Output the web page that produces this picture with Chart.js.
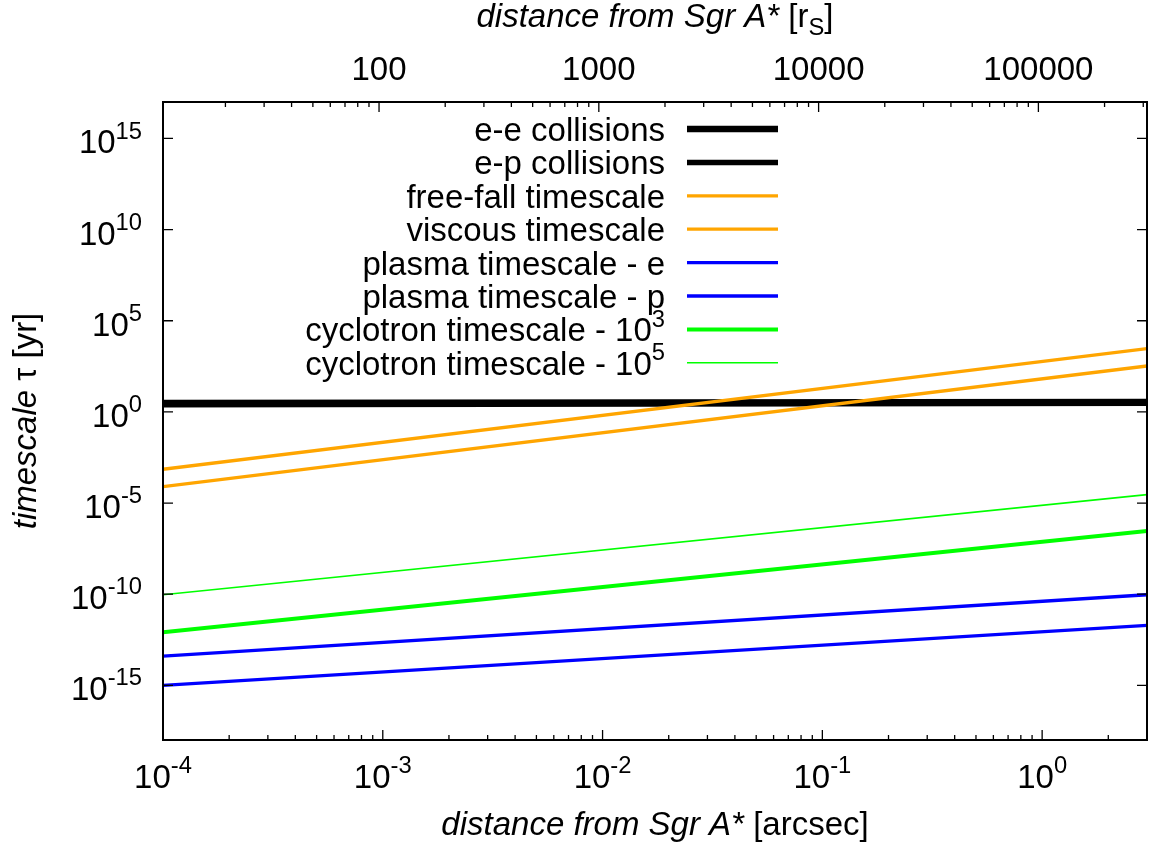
<!DOCTYPE html>
<html><head><meta charset="utf-8">
<script src="https://cdn.jsdelivr.net/npm/chart.js@4.4.1/dist/chart.umd.min.js"></script>
<style>html,body{margin:0;padding:0;background:#fff;} canvas{display:block;}</style>
</head><body>
<canvas id="c" width="1150" height="848"></canvas>
<script>
// ---- data ----
const xRange = [1e-4, 3];            // arcsec
const x2Range = [10.4, 3.12e5];       // r_S
const yRange = [1e-18, 1e17];         // yr
const xEnds = [1e-4, 3];
const eeCollisions = [3.1, 3.5];
const epCollisions = [2.5, 3.0];
const freeFall = [7.9e-5, 330];
const viscous = [7.1e-4, 2950];
const plasmaE = [1.0e-15, 1.95e-12];
const plasmaP = [4.0e-14, 9.3e-11];
const cyclotron3 = [8.1e-13, 2.95e-7];
const cyclotron5 = [9.3e-11, 2.9e-5];
const seriesLabels = ["e-e collisions","e-p collisions","free-fall timescale","viscous timescale",
  "plasma timescale - e","plasma timescale - p","cyclotron timescale - 10^3","cyclotron timescale - 10^5"];
const xTickExps = [-4,-3,-2,-1,0];
const yTickExps = [15,10,5,0,-5,-10,-15];
const x2TickValues = [100,1000,10000,100000];
const x2TickLabels = ["100","1000","10000","100000"];

const FONT = "'Liberation Sans', Arial, sans-serif";
const FS = 33;

const seriesValues = [eeCollisions, epCollisions, freeFall, viscous, plasmaE, plasmaP, cyclotron3, cyclotron5];
const seriesColors = ["#000000","#000000","#FFA500","#FFA500","#0000FF","#0000FF","#00FF00","#00FF00"];
const seriesWidths = [6.5, 5.5, 3.3, 3.3, 3.3, 3.3, 4, 1.6];

function parseRich(str, italic) {
  const segs = [];
  let i = 0, buf = '';
  const flush = () => { if (buf) { segs.push({t: buf, mode: 'n', it: !!italic}); buf=''; } };
  while (i < str.length) {
    const c = str[i];
    if (c === '^' || c === '_') {
      flush();
      let t;
      if (str[i+1] === '{') { const j = str.indexOf('}', i+2); t = str.slice(i+2, j); i = j+1; }
      else { t = str[i+1]; i += 2; }
      segs.push({t, mode: c === '^' ? 'sup' : 'sub', it: !!italic});
    } else { buf += c; i++; }
  }
  flush();
  return segs;
}
function segFont(s, size) {
  const sz = s.mode === 'n' ? size : size * 0.72;
  return (s.it ? 'italic ' : '') + sz + 'px ' + FONT;
}
function drawRich(ctx, segs, x, y, align, size) {
  let w = 0;
  segs.forEach(s => { ctx.font = segFont(s, size); s.w = ctx.measureText(s.t).width; w += s.w; });
  let cx = align === 'right' ? x - w : align === 'center' ? x - w/2 : x;
  ctx.textAlign = 'left'; ctx.textBaseline = 'alphabetic';
  segs.forEach(s => {
    ctx.font = segFont(s, size);
    const dy = s.mode === 'sup' ? -size*0.45 : s.mode === 'sub' ? size*0.24 : 0;
    ctx.fillText(s.t, cx, y + dy);
    cx += s.w;
  });
}

const overlay = {
  id: 'overlay',
  afterDraw(chart) {
    const ctx = chart.ctx, a = chart.chartArea;
    const sx = chart.scales.x, sx2 = chart.scales.x2, sy = chart.scales.y;
    ctx.save();
    ctx.fillStyle = '#000'; ctx.strokeStyle = '#000';
    // ticks
    ctx.lineWidth = 1.3;
    ctx.beginPath();
    for (let d = -5; d <= 1; d++) for (let k = 1; k <= 9; k++) {
      const v = k * Math.pow(10, d);
      if (v < xRange[0]*0.999 || v > xRange[1]*1.001) continue;
      const px = sx.getPixelForValue(v), len = k === 1 ? 10 : 5;
      ctx.moveTo(px, a.bottom); ctx.lineTo(px, a.bottom - len);
    }
    for (let d = 0; d <= 6; d++) for (let k = 1; k <= 9; k++) {
      const v = k * Math.pow(10, d);
      if (v < x2Range[0]*0.999 || v > x2Range[1]*1.001) continue;
      const px = sx2.getPixelForValue(v), len = k === 1 ? 10 : 5;
      ctx.moveTo(px, a.top); ctx.lineTo(px, a.top + len);
    }
    yTickExps.forEach(e => {
      const py = sy.getPixelForValue(Math.pow(10, e));
      ctx.moveTo(a.left, py); ctx.lineTo(a.left + 10, py);
      ctx.moveTo(a.right, py); ctx.lineTo(a.right - 10, py);
    });
    ctx.stroke();
    // border
    ctx.lineWidth = 2;
    ctx.strokeRect(a.left, a.top, a.right - a.left, a.bottom - a.top);
    // tick labels
    xTickExps.forEach(e => {
      const px = sx.getPixelForValue(Math.pow(10, e));
      drawRich(ctx, parseRich('10^{' + e + '}'), px, 788, 'center', FS);
    });
    yTickExps.forEach(e => {
      const py = sy.getPixelForValue(Math.pow(10, e));
      drawRich(ctx, parseRich('10^{' + e + '}'), 142, py + 15, 'right', FS);
    });
    x2TickValues.forEach((v, i) => {
      const px = sx2.getPixelForValue(v);
      drawRich(ctx, parseRich(x2TickLabels[i]), px, 80, 'center', FS);
    });
    // axis titles
    const cxm = (a.left + a.right) / 2, cym = (a.top + a.bottom) / 2;
    drawRich(ctx, [{t:'distance from Sgr A*', mode:'n', it:true}, {t:' [arcsec]', mode:'n'}], cxm, 835, 'center', FS);
    drawRich(ctx, [{t:'distance from Sgr A*', mode:'n', it:true}, {t:' [r', mode:'n'}, {t:'S', mode:'sub'}, {t:']', mode:'n'}], cxm, 27, 'center', FS);
    ctx.save();
    ctx.translate(36, cym); ctx.rotate(-Math.PI/2);
    drawRich(ctx, [{t:'timescale', mode:'n', it:true}, {t:' \u03C4 [yr]', mode:'n'}], 0, 0, 'center', FS);
    ctx.restore();
    // legend
    seriesLabels.forEach((lab, i) => {
      const ry = 129 + i * 33.4;
      ctx.fillStyle = '#000';
      drawRich(ctx, parseRich(lab), 665, ry + 12, 'right', FS);
      ctx.strokeStyle = seriesColors[i]; ctx.lineWidth = seriesWidths[i];
      ctx.beginPath(); ctx.moveTo(687, ry); ctx.lineTo(778, ry); ctx.stroke();
    });
    ctx.restore();
  }
};

const datasets = seriesLabels.map((lab, i) => ({
  label: lab,
  data: xEnds.map((x, k) => ({x, y: seriesValues[i][k]})),
  borderColor: seriesColors[i], borderWidth: seriesWidths[i],
  pointRadius: 0, fill: false, tension: 0, order: 100 - i,
  xAxisID: 'x', yAxisID: 'y'
}));

const hidden = {grid:{display:false}, border:{display:false}, ticks:{display:false}};
new Chart(document.getElementById('c').getContext('2d'), {
  type: 'line',
  data: {datasets},
  options: {
    responsive: false, animation: false, devicePixelRatio: 1,
    layout: {padding: {left: 0, right: 3, top: 0, bottom: 0}},
    plugins: {legend: {display: false}, tooltip: {enabled: false}},
    scales: {
      x: Object.assign({type:'logarithmic', position:'bottom', min:xRange[0], max:xRange[1], afterFit(s){ s.height = 108; }}, hidden),
      x2: Object.assign({type:'logarithmic', position:'top', min:x2Range[0], max:x2Range[1], afterFit(s){ s.height = 102; }}, hidden),
      y: Object.assign({type:'logarithmic', position:'left', min:yRange[0], max:yRange[1], afterFit(s){ s.width = 163; }}, hidden)
    }
  },
  plugins: [overlay]
});
</script>
</body></html>
